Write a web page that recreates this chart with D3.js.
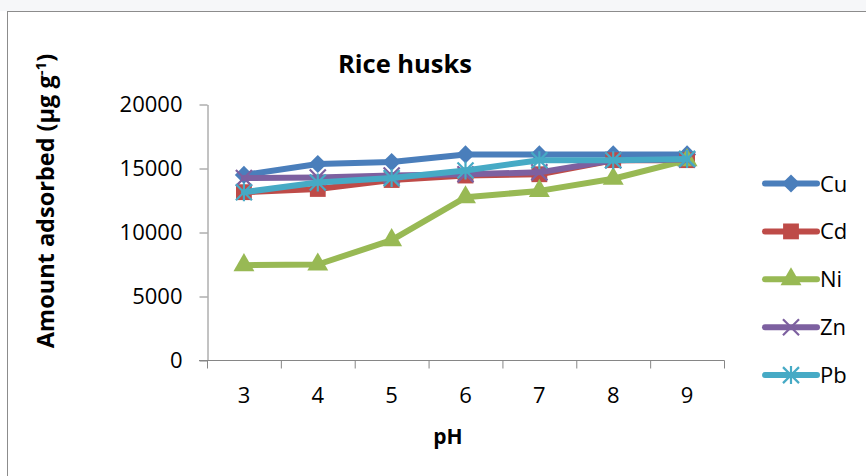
<!DOCTYPE html>
<html>
<head>
<meta charset="utf-8">
<script src="https://cdn.jsdelivr.net/npm/d3@7"></script>
<style>
    body { margin: 0; background: #ffffff; }
    svg { display: block; font-family: 'Open Sans', sans-serif; }
</style>
</head>
<body>
<svg width="866" height="476"></svg>
<script>
// chart data
const phValues = [3, 4, 5, 6, 7, 8, 9];
const cu = [14500, 15350, 15500, 16100, 16100, 16100, 16100];
const cd = [13150, 13400, 14100, 14450, 14550, 15650, 15650];
const ni = [7450, 7500, 9400, 12750, 13250, 14200, 15650];
const zn = [14250, 14300, 14450, 14550, 14700, 15650, 15700];
const pb = [13150, 13900, 14250, 14850, 15650, 15650, 15750];
const yTicks = [0, 5000, 10000, 15000, 20000];

const seriesList = [
    { name: 'Cu', values: cu, color: '#4a7ebb', marker: 'diamond' },
    { name: 'Cd', values: cd, color: '#be4b48', marker: 'square' },
    { name: 'Ni', values: ni, color: '#98b954', marker: 'triangle' },
    { name: 'Zn', values: zn, color: '#7d60a0', marker: 'times' },
    { name: 'Pb', values: pb, color: '#46aac5', marker: 'star' },
];

const svg = d3.select('svg');
const axisColor = '#868686';

// page strip + chart frame
svg.append('rect')
    .attr('width', 866).attr('height', 11)
    .style('fill', '#f6f7f9');
svg.append('rect')
    .attr('x', 7.5).attr('y', 11.5)
    .attr('width', 900).attr('height', 500)
    .style('fill', '#ffffff')
    .style('stroke', '#8c8c8c')
    .style('stroke-width', 1);

const x = d3.scaleBand()
    .domain(phValues)
    .range([207, 724]);

const y = d3.scaleLinear()
    .domain([0, 20000])
    .range([360.5, 104.5]);

const cx = d => x(d) + x.bandwidth() / 2;

// y axis
const yAxis = svg.append('g')
    .attr('transform', 'translate(207.5,0)')
    .call(d3.axisLeft(y)
        .tickValues(yTicks)
        .tickFormat(d3.format('d'))
        .tickSize(8)
        .tickSizeOuter(0)
        .tickPadding(17));
yAxis.select('.domain').style('stroke', axisColor);
yAxis.selectAll('.tick line').style('stroke', axisColor);
yAxis.selectAll('text')
    .style('font-size', '22px')
    .style('fill', '#000')
    .style('font-family', "'Open Sans', sans-serif");

// x axis: ticks on category boundaries, labels at centres
const xAxis = svg.append('g')
    .attr('transform', 'translate(0,360.5)');
xAxis.append('line')
    .attr('x1', 199).attr('x2', 724.5)
    .style('stroke', axisColor);
xAxis.selectAll('.xtick')
    .data(phValues.concat(['end']))
    .enter()
    .append('line')
    .attr('class', 'xtick')
    .attr('x1', d => (d === 'end' ? 724 : x(d)) + 0.5)
    .attr('x2', d => (d === 'end' ? 724 : x(d)) + 0.5)
    .attr('y1', 0).attr('y2', 8)
    .style('stroke', axisColor);
xAxis.selectAll('.xlabel')
    .data(phValues)
    .enter()
    .append('text')
    .attr('class', 'xlabel')
    .attr('x', cx)
    .attr('y', 42)
    .attr('text-anchor', 'middle')
    .style('font-size', '22px')
    .text(d => d);

// titles
svg.append('text')
    .attr('x', 405).attr('y', 73)
    .attr('text-anchor', 'middle')
    .style('font-size', '25.5px')
    .style('font-weight', 'bold')
    .text('Rice husks');

svg.append('text')
    .attr('x', 448).attr('y', 444)
    .attr('text-anchor', 'middle')
    .style('font-size', '21px')
    .style('font-weight', 'bold')
    .text('pH');

const yTitle = svg.append('text')
    .attr('transform', 'translate(54,201) rotate(-90)')
    .attr('text-anchor', 'middle')
    .style('font-size', '23.5px')
    .style('font-weight', 'bold');
yTitle.append('tspan').text('Amount adsorbed (μg g');
yTitle.append('tspan').attr('dy', -8).style('font-size', '15px').text('-1');
yTitle.append('tspan').attr('dy', 8).text(')');

// marker shapes (Excel style)
const markerPath = {
    diamond: d3.symbol().type(d3.symbolSquare).size(165)(),
    square: d3.symbol().type(d3.symbolSquare).size(250)(),
    triangle: d3.symbol().type(d3.symbolTriangle).size(190)(),
    times: d3.symbol().type(d3.symbolTimes).size(170)(),
    star: 'M-8,-8L8,8M-8,8L8,-8M0,-9L0,9',
};
const isStroke = m => m === 'times' || m === 'star';

function drawMarker(g, s, px, py) {
    const path = g.append('path')
        .attr('d', markerPath[s.marker])
        .attr('transform', `translate(${px},${py})` + (s.marker === 'diamond' ? ' rotate(45)' : ''));
    if (isStroke(s.marker)) {
        path.style('fill', 'none').style('stroke', s.color).style('stroke-width', 2.2);
    } else {
        path.style('fill', s.color);
    }
}

const line = d3.line()
    .x((d, i) => cx(phValues[i]))
    .y(d => y(d));

const plot = svg.append('g').attr('class', 'series');

seriesList.forEach(s => {
    const g = plot.append('g');
    g.append('path')
        .datum(s.values)
        .attr('d', line)
        .style('fill', 'none')
        .style('stroke', s.color)
        .style('stroke-width', 6)
        .style('stroke-linejoin', 'round')
        .style('stroke-linecap', 'round');
    s.values.forEach((v, i) => drawMarker(g, s, cx(phValues[i]), y(v)));
});

// legend
const legend = svg.append('g').attr('class', 'legend');
seriesList.forEach((s, i) => {
    const ly = 183.5 + i * 47.9;
    const g = legend.append('g');
    g.append('line')
        .attr('x1', 765).attr('x2', 817)
        .attr('y1', ly).attr('y2', ly)
        .style('stroke', s.color)
        .style('stroke-width', 6)
        .style('stroke-linecap', 'round');
    drawMarker(g, s, 791, ly);
    g.append('text')
        .attr('x', 820).attr('y', ly + 8)
        .style('font-size', '22px')
        .text(s.name);
});
</script>
</body>
</html>
